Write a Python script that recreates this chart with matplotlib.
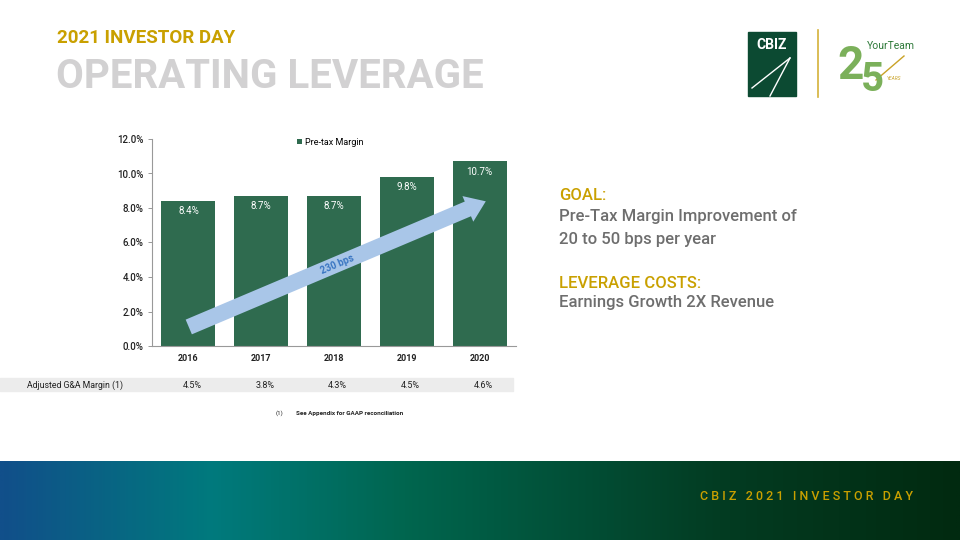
import numpy as np
import matplotlib.pyplot as plt
import matplotlib.transforms as mtransforms
from matplotlib.patches import Rectangle, FancyArrowPatch
from matplotlib.lines import Line2D
from matplotlib.colors import LinearSegmentedColormap

# chart data
years = ['2016', '2017', '2018', '2019', '2020']
pretax_margin = [8.4, 8.7, 8.7, 9.8, 10.7]
ga_margin = [4.5, 3.8, 4.3, 4.5, 4.6]
y_ticks = [0, 2, 4, 6, 8, 10, 12]
arrow_label = '230 bps'
arrow_from = (-0.03, 1.04)
arrow_to = (4.12, 8.45)

GREEN = '#2f6b4f'
GOLD = '#c9a000'
GREY_TXT = '#6e6e6e'
FONT = 'Roboto'

plt.rcParams['font.family'] = [FONT, 'DejaVu Sans']

fig = plt.figure(figsize=(9.6, 5.4), dpi=100)
W, H = 960.0, 540.0


def fx(px):
    return px / W


def fy(py):
    return 1 - py / H


# titles
fig.text(fx(57), fy(38), '2021 INVESTOR DAY', color=GOLD, fontsize=13.5,
         fontweight='bold', va='center', ha='left')
fig.text(fx(56), fy(77), 'OPERATING LEVERAGE', color='#d2d1d2', fontsize=29,
         fontweight='bold', va='center', ha='left')

# logo block
fig.patches.append(Rectangle((fx(748), fy(96)), fx(48), 64 / H,
                             transform=fig.transFigure, color='#0c4a32'))
fig.text(fx(772), fy(45), 'CBIZ', color='white', fontsize=10, fontweight='bold',
         ha='center', va='center')
fig.lines.append(Line2D([fx(752), fx(790)], [fy(88), fy(58)], transform=fig.transFigure,
                        color='white', lw=1.0))
fig.lines.append(Line2D([fx(770), fx(790)], [fy(96), fy(58)], transform=fig.transFigure,
                        color='white', lw=1.0))
fig.lines.append(Line2D([fx(818), fx(818)], [fy(30), fy(97)], transform=fig.transFigure,
                        color='#d4b23a', lw=1.2))
fig.text(fx(837), fy(66), '2', color='#7bb05a', fontsize=33, fontweight='bold',
         ha='left', va='center')
fig.text(fx(861), fy(80), '5', color='#7bb05a', fontsize=29, fontweight='bold',
         ha='left', va='center')
fig.text(fx(867), fy(46), 'YourTeam', color='#2f7a3a', fontsize=7.5,
         ha='left', va='center')
fig.text(fx(887), fy(79), 'YEARS', color='#c9a227', fontsize=3.5, style='italic',
         ha='left', va='center')
fig.lines.append(Line2D([fx(876), fx(904)], [fy(80), fy(56)], transform=fig.transFigure,
                        color='#c9a227', lw=1.0))

# right side text
right_lines = [
    (196, 'GOAL:', GOLD),
    (217, 'Pre-Tax Margin Improvement of', GREY_TXT),
    (239, '20 to 50 bps per year', GREY_TXT),
    (283, 'LEVERAGE COSTS:', GOLD),
    (303, 'Earnings Growth 2X Revenue', GREY_TXT),
]
for py, txt, col in right_lines:
    fig.text(fx(559), fy(py), txt, color=col, fontsize=12, fontweight='medium',
             va='center')

# bar chart
ax = fig.add_axes([fx(152), fy(346), fx(364), 207 / H])
x = np.arange(len(years))
ax.bar(x, pretax_margin, width=0.74, color=GREEN, label='Pre-tax Margin', zorder=2)
ax.set_xlim(-0.5, len(years) - 0.5)
ax.set_ylim(0, 12)
ax.set_yticks(y_ticks)
ax.set_yticklabels([f'{v:.1f}%' for v in y_ticks], fontsize=7, color='#222222',
                   fontweight='medium')
ax.set_xticks(x)
ax.set_xticklabels(years, fontsize=6.5, fontweight='bold', color='#222222')
ax.tick_params(axis='x', length=0, pad=6)
ax.tick_params(axis='y', length=3, width=0.6, color='#888888', pad=3)
for s in ['top', 'right']:
    ax.spines[s].set_visible(False)
for s in ['left', 'bottom']:
    ax.spines[s].set_color('#999999')
    ax.spines[s].set_linewidth(0.8)

for i, v in enumerate(pretax_margin):
    ax.text(i, v - 0.6, f'{v}%', ha='center', va='center', color='white', fontsize=7)

ax.legend(loc='upper center', bbox_to_anchor=(0.49, 1.045), frameon=False,
          fontsize=6.5, handlelength=0.6, handleheight=0.6, handletextpad=0.3)

arrow = FancyArrowPatch(arrow_from, arrow_to,
                        arrowstyle='simple,head_length=14,head_width=20,tail_width=11.5',
                        mutation_scale=1, color='#a9c6e8', lw=0, zorder=3)
ax.add_patch(arrow)
p0 = ax.transData.transform(arrow_from)
p1 = ax.transData.transform(arrow_to)
ang = np.degrees(np.arctan2(p1[1] - p0[1], p1[0] - p0[0]))
ax.text(2.04, 4.72, arrow_label, rotation=ang, rotation_mode='anchor', ha='center',
        va='center', color='#3a76c2', fontsize=7, fontweight='bold', zorder=4)

# G&A row under the chart
fig.patches.append(Rectangle((0, fy(391)), fx(513), 13 / H,
                             transform=fig.transFigure, color='#ececec'))
fig.text(fx(75), fy(385), 'Adjusted G&A Margin (1)', fontsize=6.3, ha='center',
         va='center', color='#222222')
trans = mtransforms.blended_transform_factory(ax.transData, fig.transFigure)
for i, v in enumerate(ga_margin):
    fig.text(i + 0.05, fy(385), f'{v}%', transform=trans, fontsize=6.5, ha='center',
             va='center', color='#222222')

fig.text(fx(276), fy(413), '(1)', fontsize=4.5, va='center', color='#222222')
fig.text(fx(296), fy(413), 'See Appendix for GAAP reconciliation', fontsize=4.5,
         fontweight='bold', va='center', color='#222222')

# footer gradient band
bg = fig.add_axes([0, 0, 1, 79 / H], zorder=-1)
cmap = LinearSegmentedColormap.from_list('footer', [
    (0.0, '#114f8a'), (0.22, '#007a7d'), (0.42, '#00664f'),
    (0.75, '#033c22'), (1.0, '#012a10')])
grad = np.tile(np.linspace(0, 1, 400), (20, 1))
bg.imshow(grad, cmap=cmap, aspect='auto', extent=[0, 1, 0, 1])
bg.set_axis_off()
fig.text(fx(806), fy(497), 'C B I Z   2 0 2 1   I N V E S T O R   D A Y',
         color=GOLD, fontsize=9, fontweight='medium', ha='center', va='center')

fig.savefig('out.png', dpi=100)
